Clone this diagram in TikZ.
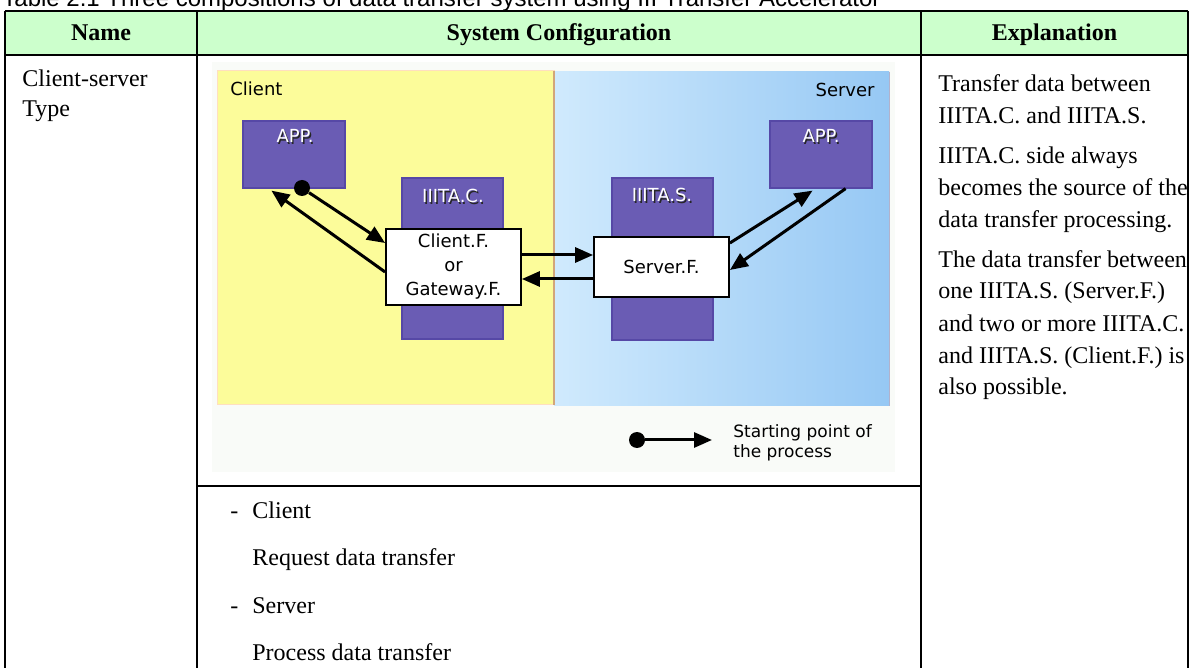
\documentclass[tikz,border=0pt]{standalone}
\usepackage{fontspec}
\setmainfont{Liberation Serif}
\newfontfamily\diagfont{DejaVu Sans}
\newfontfamily\capfont{Liberation Sans}
\usetikzlibrary{arrows.meta,calc}

\definecolor{headgreen}{RGB}{204,255,204}
\definecolor{clientyellow}{RGB}{252,252,154}
\definecolor{serverblueL}{RGB}{208,234,253}
\definecolor{serverblueR}{RGB}{150,200,244}
\definecolor{procpurple}{RGB}{106,92,180}
\definecolor{procedge}{RGB}{86,72,166}
\definecolor{diagback}{RGB}{249,251,248}

% white label with a dark drop shadow
\newcommand{\shadowed}[1]{\makebox[0pt][l]{\hspace{0.7pt}\raisebox{-0.7pt}{\color{black!85}#1}}\textcolor{white}{#1}}

\begin{document}
\begin{tikzpicture}[x=0.5pt,y=-0.5pt]
    % --- Table grid (pixel units) ---
    \def\ColL{5}       % left border
    \def\ColA{197}     % Name | System Configuration
    \def\ColB{921}     % System Configuration | Explanation
    \def\ColR{1188}    % right border
    \def\TopY{11}      % top of header
    \def\HeadY{55}     % bottom of header
    \def\RowY{486}     % line under the picture
    \def\BotY{668}     % page cut

    % --- Styles ---
    \tikzset{
        grid line/.style={line width=1.1pt},
        head text/.style={font=\bfseries\fontsize{12}{15}\selectfont, anchor=base, inner sep=0pt},
        cell text/.style={font=\fontsize{12}{15}\selectfont, anchor=base west, inner sep=0pt},
        diag text/.style={font=\diagfont\fontsize{9}{12}\selectfont, inner sep=0pt},
        proc box/.style={draw=procedge, fill=procpurple, line width=0.6pt, inner sep=0pt},
        func box/.style={draw=black, fill=white, line width=0.9pt, inner sep=0pt,
                         minimum width=67.5pt, align=center,
                         font=\diagfont\fontsize{9}{12}\selectfont},
        flow arrow/.style={line width=1.5pt, -{Triangle[length=9pt,width=7.5pt]}},
        start dot/.style={circle, fill=black, inner sep=0pt, minimum size=8pt}
    }

    \useasboundingbox (0,0) rectangle (1190,668);
    \clip (0,0) rectangle (1190,668);

    % =========================================================
    % 1) CAPTION (cut by the top edge)
    % =========================================================
    \node[font=\capfont\fontsize{12}{14}\selectfont, anchor=base west, inner sep=0pt]
      (caption) at (2,7) {Table 2.1 Three compositions of data transfer system using III Transfer Accelerator};

    % header band
    \fill[headgreen] (\ColL,\TopY) rectangle (\ColR,\HeadY);

    % =========================================================
    % 2) PICTURE: CLIENT / SERVER AREAS
    % =========================================================
    \fill[diagback] (212,62) rectangle (895,472);
    \filldraw[fill=clientyellow, draw=orange!25, line width=0.5pt] (217,71) rectangle (554,405);
    \shade[left color=serverblueL, right color=serverblueR] (554,72) rectangle (889,406);
    \draw[blue!20!gray!50, line width=0.5pt] (889,72) -- (889,406);
    \draw[brown!70, line width=0.6pt] (554,71) -- (554,405);

    \node[diag text, anchor=west] (clientlbl) at (230,89) {Client};
    \node[diag text, anchor=east] (serverlbl) at (875,90) {Server};

    % --- process boxes ---
    \node[proc box, minimum width=51pt, minimum height=33.5pt] (appc) at (294,154.5) {};
    \node[proc box, minimum width=50.5pt, minimum height=80.5pt] (iiitac) at (452.5,258.5) {};
    \node[proc box, minimum width=50.5pt, minimum height=81pt] (iiitas) at (662.5,259) {};
    \node[proc box, minimum width=51pt, minimum height=33.5pt] (apps) at (821,154.5) {};

    \node[diag text] (appclbl) at (295,137) {\shadowed{APP.}};
    \node[diag text] (iiitaclbl) at (453,197) {\shadowed{IIITA.C.}};
    \node[diag text] (iiitaslbl) at (662,196) {\shadowed{IIITA.S.}};
    \node[diag text] (appslbl) at (821,137) {\shadowed{APP.}};

    % --- function boxes ---
    \node[func box, minimum height=38pt] (clientf) at (453.5,267) {Client.F.\\or\\Gateway.F.};
    \node[func box, minimum height=30pt] (serverf) at (661.5,267) {Server.F.};

    % --- flows ---
    \node[start dot] (sdot) at (302,188) {};
    \draw[flow arrow] (sdot) -- ([yshift=12pt]clientf.west);
    \draw[flow arrow] ([yshift=-2.5pt]clientf.west) -- ([xshift=14.5pt,yshift=-1pt]appc.south west);
    \draw[flow arrow] ([yshift=6pt]clientf.east) -- ([yshift=6pt]serverf.west);
    \draw[flow arrow] ([yshift=-6pt]serverf.west) -- ([yshift=-6pt]clientf.east);
    \draw[flow arrow] ([yshift=12pt]serverf.east) -- ([xshift=-30pt,yshift=-1pt]apps.south east);
    \draw[flow arrow] ([xshift=-13.5pt]apps.south east) -- ([yshift=-1.5pt]serverf.east);

    % --- legend ---
    \node[start dot] (legdot) at (637,440) {};
    \coordinate (legtip) at (712,440);
    \draw[flow arrow] (legdot) -- (legtip);
    \node[diag text, anchor=west, align=left, font=\diagfont\fontsize{8.5}{10}\selectfont]
      (legtext) at (733,443) {Starting point of\\the process};

    % =========================================================
    % 3) TABLE TEXT (anchored on the last baseline)
    % =========================================================
    \node[head text] (hname) at (101,41) {Name};
    \node[head text] (hconf) at (559,41) {System Configuration};
    \node[head text] (hexpl) at (1054.5,41) {Explanation};

    \node[cell text, align=left] (typename) at (22,117) {Client-server\\Type};

    \node[cell text, align=left, font=\fontsize{12}{16}\selectfont] (expl) at (938,395) {%
        Transfer data between\\IIITA.C. and IIITA.S.\\[4pt]
        IIITA.C. side always\\becomes the source of the\\data transfer processing.\\[4pt]
        The data transfer between\\one IIITA.S. (Server.F.)\\and two or more IIITA.C.\\and IIITA.S. (Client.F.) is\\also possible.};

    \node[cell text] (dashc) at (230,518) {-};
    \node[cell text] (rolec) at (252,518) {Client};
    \node[cell text] (taskc) at (252,565) {Request data transfer};
    \node[cell text] (dashs) at (230,613) {-};
    \node[cell text] (roles) at (252,613) {Server};
    \node[cell text] (tasks) at (252,660) {Process data transfer};

    % =========================================================
    % 4) GRID LINES
    % =========================================================
    \draw[grid line] (\ColL,\TopY) -- (\ColR,\TopY);
    \draw[grid line] (\ColL,\HeadY) -- (\ColR,\HeadY);
    \draw[grid line] (\ColA,\RowY) -- (\ColB,\RowY);
    \foreach \cx in {\ColL,\ColA,\ColB,\ColR} {
        \draw[grid line] (\cx,\TopY) -- (\cx,\BotY);
    }

\end{tikzpicture}
\end{document}
